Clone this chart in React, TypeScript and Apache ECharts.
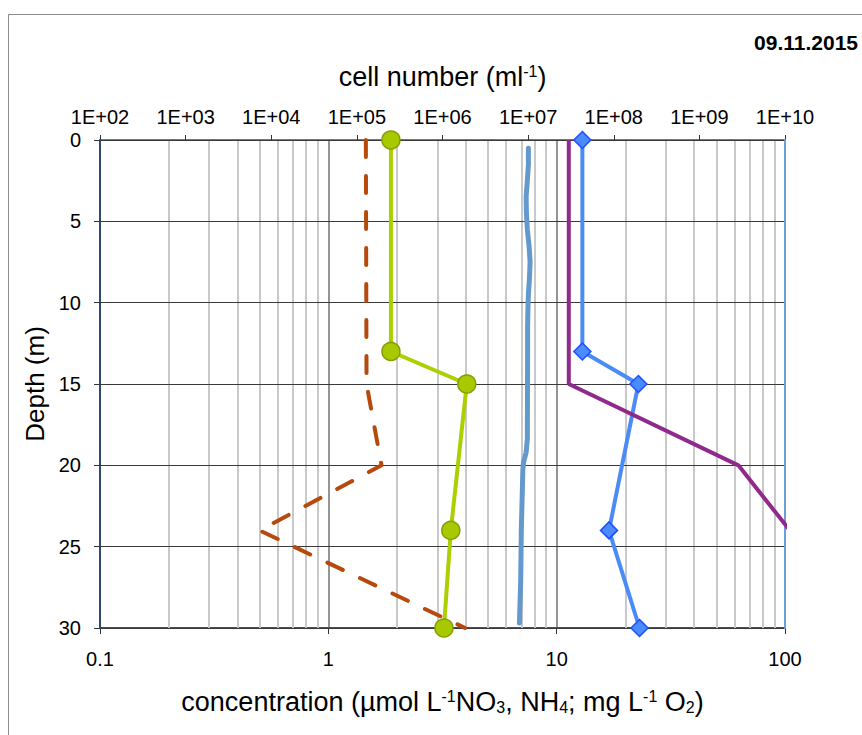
import React, { useEffect, useRef } from 'react';
import * as echarts from 'echarts';

// ---- data ----
const depthTickInterval = 5;

// NO3 (µmol/L) – dashed brown, bottom axis
const no3Depth = [0, 15, 20, 24, 30];
const no3Value = [1.46, 1.47, 1.71, 0.5, 3.97];

// NH4 (µmol/L) – purple, bottom axis
const nh4Depth = [0, 15, 20, 24];
const nh4Value = [11.3, 11.3, 62.5, 105];

// O2 (mg/L) – light blue CTD profile, bottom axis
const o2Depth = [0.5, 1.5, 2.5, 3.5, 4.5, 5.5, 6.5, 7.5, 8.5, 9.5, 10.5, 11.5, 13, 16, 18.4, 19.2, 19.85, 20.3, 22, 24, 27, 29.7];
const o2Value = [7.52, 7.52, 7.44, 7.35, 7.37, 7.44, 7.57, 7.65, 7.6, 7.52, 7.48, 7.46, 7.46, 7.45, 7.44, 7.35, 7.15, 7.11, 7.06, 7.0, 6.96, 6.87];

// cell numbers (ml^-1) – top axis
const cellDepth = [0, 13, 15, 24, 30];
const cellsGreen = [2.5e5, 2.5e5, 1.92e6, 1.25e6, 1.04e6];
const cellsBlue = [4.3e7, 4.3e7, 1.94e8, 8.8e7, 2.0e8];

// axis ranges
const concMin = 0.1;
const concMax = 100;
const cellMin = 1e2;
const cellMax = 1e10;
const depthMin = 0;
const depthMax = 30;
const dateLabel = '09.11.2015';

const concDecades = [0.1, 1, 10];
const minorSteps = [2, 3, 4, 5, 6, 7, 8, 9];
const minorGrid = concDecades.flatMap((d) => minorSteps.map((k) => d * k));

const FONT = '"Liberation Sans", Arial, sans-serif';

function cellLabel(v: number): string {
  const e = Math.round(Math.log10(v));
  return '1E+' + (e < 10 ? '0' : '') + e;
}

export default function App() {
  const ref = useRef<HTMLDivElement>(null);

  useEffect(() => {
    if (!ref.current) return;
    const chart = echarts.init(ref.current, null, { renderer: 'svg' });

    const richSS = {
      sup: { fontSize: 16, verticalAlign: 'top', color: '#000', fontFamily: FONT },
      sub: { fontSize: 16, verticalAlign: 'bottom', color: '#000', fontFamily: FONT },
    };

    const option: any = {
      animation: false,
      backgroundColor: '#ffffff',
      textStyle: { fontFamily: FONT },
      grid: { left: 100, top: 140, width: 685, height: 488, containLabel: false },
      graphic: [
        {
          type: 'rect',
          shape: { x: 8.5, y: 14.5, width: 1000, height: 1000 },
          style: { fill: 'none', stroke: '#8c8c8c', lineWidth: 1 },
          silent: true,
          z: -1,
        },
        {
          type: 'text',
          x: 858,
          y: 42,
          style: {
            text: dateLabel,
            font: 'bold 21px ' + FONT,
            fill: '#000',
            textAlign: 'right',
            textVerticalAlign: 'middle',
          },
        },
      ],
      xAxis: [
        {
          type: 'log',
          logBase: 10,
          position: 'bottom',
          min: concMin,
          max: concMax,
          splitNumber: 3,
          name: 'concentration (µmol L{sup|-1}NO{sub|3}, NH{sub|4}; mg L{sup|-1} O{sub|2})',
          nameLocation: 'middle',
          nameGap: 60,
          nameTextStyle: { fontSize: 27, color: '#000', fontFamily: FONT, rich: richSS },
          axisLine: { show: true, onZero: false, lineStyle: { color: '#2b5686', width: 2 } },
          axisTick: { show: true, length: 6, lineStyle: { color: '#333' } },
          axisLabel: { fontSize: 20, color: '#000', margin: 21, showMinLabel: true, showMaxLabel: true },
          splitLine: { show: true, lineStyle: { color: '#959595', width: 2 } },
        },
        {
          type: 'log',
          logBase: 10,
          position: 'top',
          min: cellMin,
          max: cellMax,
          splitNumber: 8,
          name: 'cell number (ml{sup|-1})',
          nameLocation: 'middle',
          nameGap: 50,
          nameTextStyle: { fontSize: 27, color: '#000', fontFamily: FONT, rich: richSS },
          axisLine: { show: true, onZero: false, lineStyle: { color: '#3a4f66', width: 1.5 } },
          axisTick: { show: true, length: 5, lineStyle: { color: '#333' } },
          axisLabel: {
            fontSize: 20,
            color: '#000',
            margin: 13,
            showMinLabel: true,
            showMaxLabel: true,
            formatter: (v: number) => cellLabel(v),
          },
          splitLine: { show: false },
        },
      ],
      yAxis: [
        {
          type: 'value',
          inverse: true,
          min: depthMin,
          max: depthMax,
          interval: depthTickInterval,
          z: 2,
          name: 'Depth (m)',
          nameLocation: 'middle',
          nameRotate: 90,
          nameGap: 50,
          nameTextStyle: { fontSize: 26, color: '#000', fontFamily: FONT },
          axisLine: { show: true, onZero: false, lineStyle: { color: '#2c4a6e', width: 2 } },
          axisTick: { show: true, length: 6, lineStyle: { color: '#333' } },
          axisLabel: { fontSize: 20, color: '#000', margin: 19 },
          splitLine: { show: true, lineStyle: { color: '#3a3a3a', width: 1.2 } },
        },
        {
          type: 'value',
          inverse: true,
          position: 'right',
          min: depthMin,
          max: depthMax,
          interval: depthTickInterval,
          z: 2,
          axisLine: { show: true, onZero: false, lineStyle: { color: '#6a9fd8', width: 2 } },
          axisTick: { show: false },
          axisLabel: { show: false },
          splitLine: { show: false },
        },
      ],
      series: [
        {
          name: 'O2',
          type: 'line',
          xAxisIndex: 0,
          yAxisIndex: 0,
          z: 3,
          symbol: 'none',
          data: o2Depth.map((d, i) => [o2Value[i], d]),
          lineStyle: { color: '#6399CC', width: 5, cap: 'round', join: 'round' },
          markLine: {
            silent: true,
            z: 1,
            symbol: ['none', 'none'],
            label: { show: false },
            lineStyle: { color: '#c9c9c9', width: 2, type: 'solid' },
            data: minorGrid.map((v) => ({ xAxis: v })),
          },
        },
        {
          name: 'cells small',
          type: 'line',
          xAxisIndex: 1,
          yAxisIndex: 0,
          z: 4,
          symbol: 'circle',
          symbolSize: 18,
          showSymbol: true,
          data: cellDepth.map((d, i) => [cellsGreen[i], d]),
          lineStyle: { color: '#AAD000', width: 4 },
          itemStyle: { color: '#A6C900', borderColor: '#8A9B00', borderWidth: 1.5 },
        },
        {
          name: 'cells large',
          type: 'line',
          xAxisIndex: 1,
          yAxisIndex: 0,
          z: 4,
          symbol: 'diamond',
          symbolSize: 17,
          showSymbol: true,
          data: cellDepth.map((d, i) => [cellsBlue[i], d]),
          lineStyle: { color: '#4B8BF5', width: 4 },
          itemStyle: { color: '#4A8BFF', borderColor: '#1D4FFF', borderWidth: 1.5 },
        },
        {
          name: 'NO3',
          type: 'line',
          xAxisIndex: 0,
          yAxisIndex: 0,
          z: 5,
          symbol: 'none',
          data: no3Depth.map((d, i) => [no3Value[i], d]),
          lineStyle: { color: '#B54A0C', width: 4, type: [17, 19], cap: 'round', join: 'round' },
        },
        {
          name: 'NH4',
          type: 'line',
          xAxisIndex: 0,
          yAxisIndex: 0,
          z: 5,
          symbol: 'none',
          data: nh4Depth.map((d, i) => [nh4Value[i], d]),
          lineStyle: { color: '#8F2A8C', width: 4 },
        },
      ],
    };

    chart.setOption(option);
    return () => chart.dispose();
  }, []);

  return (
    <div
      ref={ref}
      style={{ position: 'absolute', left: 0, top: 0, width: 862, height: 735 }}
    />
  );
}
